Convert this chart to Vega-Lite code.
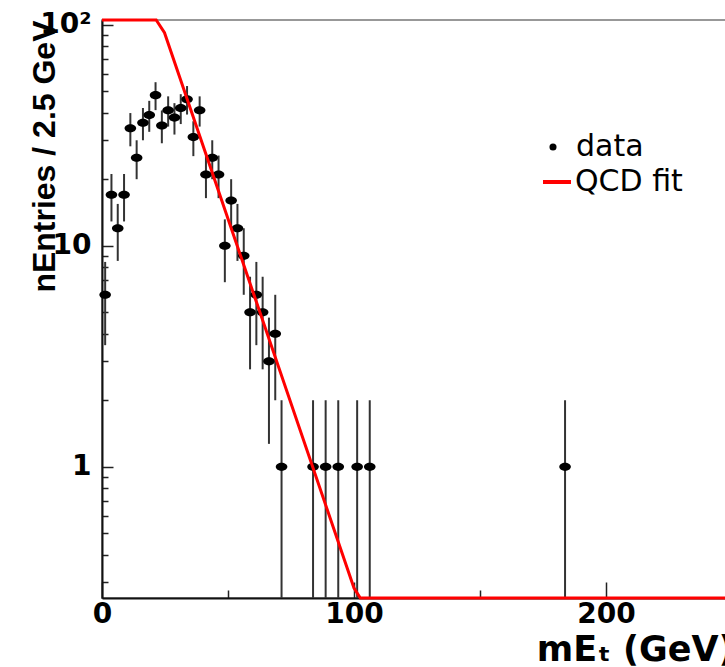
{
  "$schema": "https://vega.github.io/schema/vega-lite/v6.json",
  "width": 630,
  "height": 578,
  "autosize": {"type": "none"},
  "padding": {"left": 102, "top": 20, "right": 0, "bottom": 69},
  "background": "white",
  "config": {
    "view": {"stroke": "#777", "strokeWidth": 1.5},
    "axisY": {
      "title": "nEntries / 2.5 GeV",
      "titleFont": "Liberation Sans",
      "titleFontWeight": "bold",
      "titleFontSize": 32,
      "titleColor": "black",
      "titleAngle": -90,
      "titleAlign": "right",
      "titleBaseline": "alphabetic",
      "titleX": -48,
      "titleY": 0,
      "labelFont": "DejaVu Sans",
      "labelFontWeight": "bold",
      "labelFontSize": 28,
      "labelColor": "black",
      "labelPadding": 22,
      "labelOverlap": false,
      "labelFlush": false,
      "tickColor": "#222",
      "tickWidth": 1.5,
      "domainColor": "#111",
      "domainWidth": 2,
      "grid": false
    }
  },
  "datasets": {
    "hist": [
      {"x": 1.25, "n": 6, "lo": 3.55, "hi": 8.45, "series": "data"},
      {"x": 3.75, "n": 17, "lo": 12.88, "hi": 21.12, "series": "data"},
      {"x": 6.25, "n": 12, "lo": 8.54, "hi": 15.46, "series": "data"},
      {"x": 8.75, "n": 17, "lo": 12.88, "hi": 21.12, "series": "data"},
      {"x": 11.25, "n": 34, "lo": 28.17, "hi": 39.83, "series": "data"},
      {"x": 13.75, "n": 25, "lo": 20, "hi": 30, "series": "data"},
      {"x": 16.25, "n": 36, "lo": 30, "hi": 42, "series": "data"},
      {"x": 18.75, "n": 39, "lo": 32.76, "hi": 45.24, "series": "data"},
      {"x": 21.25, "n": 48, "lo": 41.07, "hi": 54.93, "series": "data"},
      {"x": 23.75, "n": 35, "lo": 29.08, "hi": 40.92, "series": "data"},
      {"x": 26.25, "n": 41, "lo": 34.6, "hi": 47.4, "series": "data"},
      {"x": 28.75, "n": 38, "lo": 31.84, "hi": 44.16, "series": "data"},
      {"x": 31.25, "n": 42, "lo": 35.52, "hi": 48.48, "series": "data"},
      {"x": 33.75, "n": 46, "lo": 39.22, "hi": 52.78, "series": "data"},
      {"x": 36.25, "n": 31, "lo": 25.43, "hi": 36.57, "series": "data"},
      {"x": 38.75, "n": 41, "lo": 34.6, "hi": 47.4, "series": "data"},
      {"x": 41.25, "n": 21, "lo": 16.42, "hi": 25.58, "series": "data"},
      {"x": 43.75, "n": 25, "lo": 20, "hi": 30, "series": "data"},
      {"x": 46.25, "n": 21, "lo": 16.42, "hi": 25.58, "series": "data"},
      {"x": 48.75, "n": 10, "lo": 6.84, "hi": 13.16, "series": "data"},
      {"x": 51.25, "n": 16, "lo": 12, "hi": 20, "series": "data"},
      {"x": 53.75, "n": 12, "lo": 8.54, "hi": 15.46, "series": "data"},
      {"x": 56.25, "n": 9, "lo": 6, "hi": 12, "series": "data"},
      {"x": 58.75, "n": 5, "lo": 2.76, "hi": 7.24, "series": "data"},
      {"x": 61.25, "n": 6, "lo": 3.55, "hi": 8.45, "series": "data"},
      {"x": 63.75, "n": 5, "lo": 2.76, "hi": 7.24, "series": "data"},
      {"x": 66.25, "n": 3, "lo": 1.27, "hi": 4.73, "series": "data"},
      {"x": 68.75, "n": 4, "lo": 2, "hi": 6, "series": "data"},
      {"x": 71.25, "n": 1, "lo": 0.1, "hi": 2, "series": "data"},
      {"x": 83.75, "n": 1, "lo": 0.1, "hi": 2, "series": "data"},
      {"x": 88.75, "n": 1, "lo": 0.1, "hi": 2, "series": "data"},
      {"x": 93.75, "n": 1, "lo": 0.1, "hi": 2, "series": "data"},
      {"x": 101.25, "n": 1, "lo": 0.1, "hi": 2, "series": "data"},
      {"x": 106.25, "n": 1, "lo": 0.1, "hi": 2, "series": "data"},
      {"x": 183.75, "n": 1, "lo": 0.1, "hi": 2, "series": "data"}
    ],
    "fit": [
      {"x": 0, "y": 105, "series": "QCD fit"},
      {"x": 21.5, "y": 105, "series": "QCD fit"},
      {"x": 24.8, "y": 92, "series": "QCD fit"},
      {"x": 100, "y": 0.283, "series": "QCD fit"},
      {"x": 102.5, "y": 0.255, "series": "QCD fit"},
      {"x": 250, "y": 0.255, "series": "QCD fit"}
    ]
  },
  "encoding": {
    "x": {
      "field": "x",
      "type": "quantitative",
      "scale": {"domain": [0, 250], "nice": false, "zero": false},
      "axis": {
        "title": "mEₜ (GeV)",
        "titleFont": "DejaVu Sans",
        "titleFontWeight": "bold",
        "titleFontSize": 35,
        "titleColor": "black",
        "titleAnchor": "end",
        "titleAlign": "right",
        "titleBaseline": "alphabetic",
        "titleX": 632,
        "titleY": 62,
        "values": [0, 50, 100, 150, 200, 250],
        "labelExpr": "datum.value % 100 == 0 ? datum.label : ''",
        "labelFont": "DejaVu Sans",
        "labelFontWeight": "bold",
        "labelFontSize": 28,
        "labelColor": "black",
        "labelPadding": 18,
        "labelFlush": false,
        "labelOverlap": false,
        "tickSize": {"condition": {"test": "datum.value % 100 == 0", "value": -16}, "value": -8},
        "tickColor": "#222",
        "tickWidth": 1.5,
        "domainColor": "#111",
        "domainWidth": 2,
        "grid": false
      }
    }
  },
  "layer": [
    {
      "data": {"name": "hist"},
      "mark": {"type": "rule", "clip": true, "color": "#333", "strokeWidth": 2},
      "encoding": {
        "y": {
          "field": "lo",
          "type": "quantitative",
          "scale": {"type": "log", "domain": [0.255, 105], "nice": false},
          "axis": {
            "title": "nEntries / 2.5 GeV",
            "values": [0.3, 0.4, 0.5, 0.6, 0.7, 0.8, 0.9, 1, 2, 3, 4, 5, 6, 7, 8, 9, 10, 20, 30, 40, 50, 60, 70, 80, 90, 100],
            "labelExpr": "datum.value == 100 ? '10²' : (datum.value == 10 ? '10' : (datum.value == 1 ? '1' : ''))",
            "tickSize": {"condition": {"test": "datum.value == 1 || datum.value == 10 || datum.value == 100", "value": -11}, "value": -6}
          }
        },
        "y2": {"field": "hi"}
      }
    },
    {
      "data": {"name": "hist"},
      "mark": {"type": "point", "filled": true, "shape": "M-1,0A1,0.7,0,1,1,1,0A1,0.7,0,1,1,-1,0Z", "size": 135, "opacity": 1, "strokeWidth": 0},
      "encoding": {
        "y": {
          "field": "n",
          "type": "quantitative",
          "scale": {"type": "log", "domain": [0.255, 105], "nice": false},
          "axis": {
            "title": "nEntries / 2.5 GeV",
            "values": [0.3, 0.4, 0.5, 0.6, 0.7, 0.8, 0.9, 1, 2, 3, 4, 5, 6, 7, 8, 9, 10, 20, 30, 40, 50, 60, 70, 80, 90, 100],
            "labelExpr": "datum.value == 100 ? '10²' : (datum.value == 10 ? '10' : (datum.value == 1 ? '1' : ''))",
            "tickSize": {"condition": {"test": "datum.value == 1 || datum.value == 10 || datum.value == 100", "value": -11}, "value": -6}
          }
        },
        "fill": {
          "field": "series",
          "type": "nominal",
          "scale": {"domain": ["data"], "range": ["black"]},
          "legend": {
            "orient": "none",
            "legendX": 436,
            "legendY": 112,
            "title": null,
            "symbolType": "circle",
            "symbolSize": 50,
            "symbolStrokeWidth": 0,
            "labelFont": "DejaVu Sans",
            "labelFontSize": 30,
            "labelColor": "black",
            "labelOffset": 8
          }
        }
      }
    },
    {
      "data": {"name": "fit"},
      "mark": {"type": "line", "strokeWidth": 3},
      "encoding": {
        "y": {
          "field": "y",
          "type": "quantitative",
          "scale": {"type": "log", "domain": [0.255, 105], "nice": false},
          "axis": {
            "title": "nEntries / 2.5 GeV",
            "values": [0.3, 0.4, 0.5, 0.6, 0.7, 0.8, 0.9, 1, 2, 3, 4, 5, 6, 7, 8, 9, 10, 20, 30, 40, 50, 60, 70, 80, 90, 100],
            "labelExpr": "datum.value == 100 ? '10²' : (datum.value == 10 ? '10' : (datum.value == 1 ? '1' : ''))",
            "tickSize": {"condition": {"test": "datum.value == 1 || datum.value == 10 || datum.value == 100", "value": -11}, "value": -6}
          }
        },
        "stroke": {
          "field": "series",
          "type": "nominal",
          "scale": {"domain": ["QCD fit"], "range": ["#ff0000"]},
          "legend": {
            "orient": "none",
            "legendX": 439,
            "legendY": 146,
            "title": null,
            "symbolType": "stroke",
            "symbolSize": 784,
            "symbolStrokeWidth": 4,
            "labelFont": "DejaVu Sans",
            "labelFontSize": 30,
            "labelColor": "black",
            "labelOffset": 2
          }
        }
      }
    }
  ]
}
